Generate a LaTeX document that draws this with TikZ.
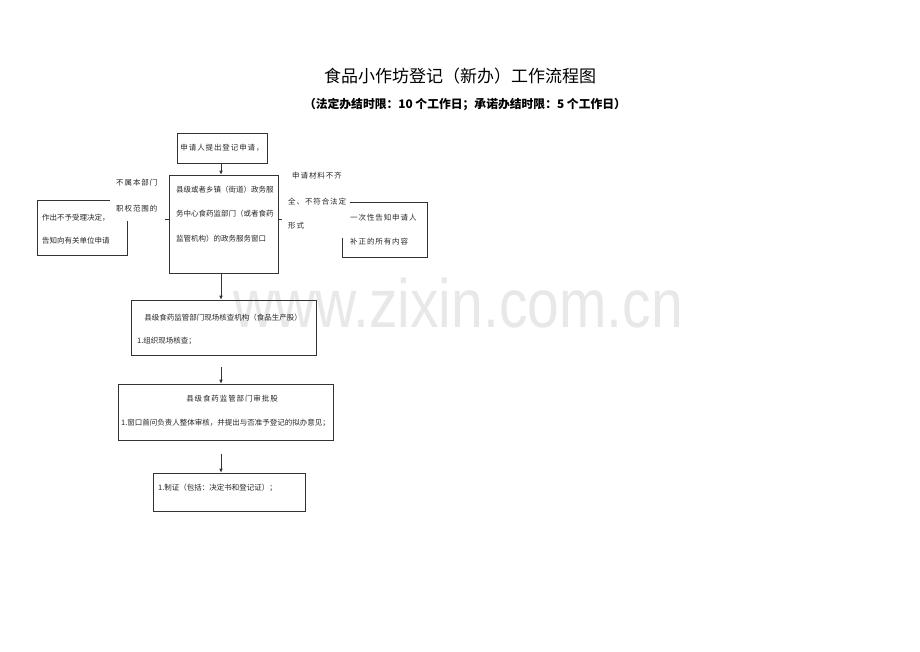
\documentclass[tikz,border=0pt]{standalone}
\usepackage{fontspec}
\usepackage{tikz}
\usetikzlibrary{arrows.meta}
\newfontfamily\cjk{Noto Sans CJK SC}
\newfontfamily\cjkw{Noto Sans CJK SC}[LetterSpace=12]
\newfontfamily\wmfont{Liberation Sans}
\tikzset{
	box/.style={draw=black!80, line width=0.6pt, inner sep=0pt},
	cover/.style={fill=white, inner sep=0pt},
	txt/.style={inner sep=0pt, text=black!85, font=\cjk\fontsize{7.5}{9}\selectfont},
	txtw/.style={inner sep=0pt, text=black!85, font=\cjkw\fontsize{7.5}{9}\selectfont},
	link/.style={draw=black!80, line width=0.6pt},
	arr/.style={link, -{Latex[length=4pt,width=3.5pt]}}
}

\begin{document}
\begin{tikzpicture}[x=1pt, y=-1pt]
		%%%%% START %%%%%
		\useasboundingbox (0,0) rectangle (920,651);
		
		\node[font=\wmfont\fontsize{57}{60}\selectfont, text=black!9, anchor=base, inner sep=0pt] (wmark) at (458,327) {\scalebox{1}[1.2]{www.zixin.com.cn}};
		
		\node[font=\cjk\fontsize{17}{20}\selectfont] (title) at (460,76) {食品小作坊登记（新办）工作流程图};
		\node[font=\cjk\bfseries\fontsize{11.8}{13}\selectfont] (subtitle) at (465,104) {（法定办结时限：10 个工作日；承诺办结时限：5 个工作日）};
		
		\node[box, minimum width=90pt, minimum height=30pt] (apply) at (222,148) {};
		\node[txtw] (applytxt) at (222,148) {申请人提出登记申请，};
		
		\node[box, minimum width=109pt, minimum height=98pt] (window) at (223.5,224) {};
		\node[txt, anchor=west] (win1) at (176,190) {县级或者乡镇（街道）政务服};
		\node[txt, anchor=west] (win2) at (176,214) {务中心食药监部门（或者食药};
		\node[txt, anchor=west] (win3) at (176,239) {监管机构）的政务服务窗口};
		
		\node[box, minimum width=90pt, minimum height=55pt] (refuse) at (82,227.5) {};
		\node[txt, anchor=west] (refuse1) at (42,218) {作出不予受理决定，};
		\node[txt, anchor=west] (refuse2) at (42,241) {告知向有关单位申请};
		
		\node[box, minimum width=85pt, minimum height=55pt] (inform) at (384.5,229.5) {};
		\node[txtw, anchor=west] (inform1) at (350,218) {一次性告知申请人};
		\node[txtw, anchor=west] (inform2) at (350,242) {补正的所有内容};
		
		\draw[link] ([yshift=5pt]window.west) -- ([yshift=5pt]window.west -| refuse.east);
		\draw[link] ([yshift=5pt]window.east) -- ([yshift=5pt]window.east -| inform.west);
		
		\node[cover, minimum width=55pt, minimum height=51pt] (leftlbl) at (137.5,195.5) {};
		\node[txtw, anchor=west] (leftlbl1) at (116,183) {不属本部门};
		\node[txtw, anchor=west] (leftlbl2) at (116,209) {职权范围的};
		
		\node[cover, minimum width=68pt, minimum height=73pt] (rightlbl) at (316,201.5) {};
		\node[txtw, anchor=west] (rightlbl1) at (292,176) {申请材料不齐};
		\node[txtw, anchor=west] (rightlbl2) at (288,202) {全、不符合法定};
		\node[txtw, anchor=west] (rightlbl3) at (288,226) {形式};
		
		\node[box, minimum width=185pt, minimum height=55pt] (site) at (223.5,327.5) {};
		\node[txt] (site1) at (223,318) {县级食药监管部门现场核查机构（食品生产股）};
		\node[txt, anchor=west] (site2) at (137,341) {1.组织现场核查；};
		
		\node[box, minimum width=215pt, minimum height=56pt] (approve) at (225.5,412) {};
		\node[txtw] (approve1) at (232,399) {县级食药监管部门审批股};
		\node[txt, anchor=west] (approve2) at (121,423) {1.窗口首问负责人整体审核，并提出与否准予登记的拟办意见；};
		
		\node[box, minimum width=152pt, minimum height=38pt] (issue) at (229,492) {};
		\node[txt, anchor=west] (issue1) at (158,488) {1.制证（包括：决定书和登记证）；};
		
		\coordinate (a1) at (221,273);
		\coordinate (a2) at (221,367);
		\coordinate (a3) at (221,454);
		
		\draw[arr] (apply.south -| a1) -- (window.north -| a1);
		\draw[arr] (a1) -- (site.north -| a1);
		\draw[arr] (a2) -- (approve.north -| a2);
		\draw[arr] (a3) -- (issue.north -| a3);
		
		%%%%% END %%%%%
	\end{tikzpicture}
\end{document}
